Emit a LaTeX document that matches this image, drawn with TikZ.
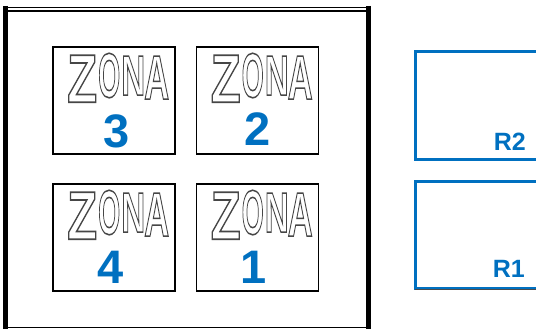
\documentclass[tikz,border=0pt]{standalone}
\usepackage{fontspec}
\setmainfont{Liberation Sans}
\definecolor{zblue}{RGB}{0,112,192}
\definecolor{zgray}{RGB}{70,70,70}
\newcommand\zlet[3]{\resizebox{#1pt}{#2pt}{\fontsize{40}{40}\selectfont\bfseries\color{zgray}\special{pdf:literal 1 Tr 1.0 w}#3\special{pdf:literal 0 Tr}}}
\newcommand\zonaword[3]{%
  \node[anchor=north west,inner sep=0] (#1Z) at ({#2-61+14},{#3+8}) {\zlet{30}{47}{Z}};
  \node[anchor=north west,inner sep=0] (#1O) at ({#2-61+45},{#3+6}) {\zlet{22}{44}{O}};
  \node[anchor=north west,inner sep=0] (#1N) at ({#2-61+68},{#3+9}) {\zlet{24}{39}{N}};
  \node[anchor=north west,inner sep=0] (#1A) at ({#2-61+91},{#3+9}) {\zlet{25}{43}{A}};
}
\begin{document}
\begin{tikzpicture}[x=1pt,y=-1pt,
  zonebox/.style={draw=black,line width=1.8pt,fill=white,minimum width=122pt,minimum height=107pt,inner sep=0pt},
  rbox/.style={draw=zblue,line width=3pt},
  num/.style={text=zblue,font=\fontsize{47}{47}\selectfont\bfseries,inner sep=0pt,anchor=base},
  rlab/.style={text=zblue,font=\fontsize{25}{25}\selectfont\bfseries,inner sep=0pt,anchor=base east}]
\useasboundingbox (0,0) rectangle (536,329);
\clip (0,0) rectangle (536,329);
% outer frame
\draw[line width=1.3pt] (6,7.3) -- (368,7.3);
\draw[line width=1.6pt] (6,10.8) -- (368,10.8);
\draw[line width=1.6pt] (6,327.6) -- (368,327.6);
\draw[line width=4.5pt] (5.7,6) -- (5.7,329);
\draw[line width=5pt] (368,6) -- (368,329);
% zones
\node[zonebox] (z3) at (114,100.5) {};
\node[zonebox] (z2) at (257.5,100.5) {};
\node[zonebox] (z4) at (114,237.5) {};
\node[zonebox] (z1) at (257.5,237.5) {};
\zonaword{w3}{114}{47}
\zonaword{w2}{257.5}{47}
\zonaword{w4}{114}{184}
\zonaword{w1}{257.5}{184}
\node[num] (n3) at (117,147) {3};
\node[num] (n2) at (258,145) {2};
\node[num] (n4) at (111,283) {4};
\node[num] (n1) at (254,283) {1};
% R boxes
\draw[rbox] (415,52) rectangle (545,159);
\draw[rbox] (415,181) rectangle (545,288);
\draw[line width=0.8pt,black!70] (415,289.8) -- (536,289.8);
\node[rlab] (r2) at (526,150) {R2};
\node[rlab] (r1) at (525,277) {R1};
\end{tikzpicture}
\end{document}
